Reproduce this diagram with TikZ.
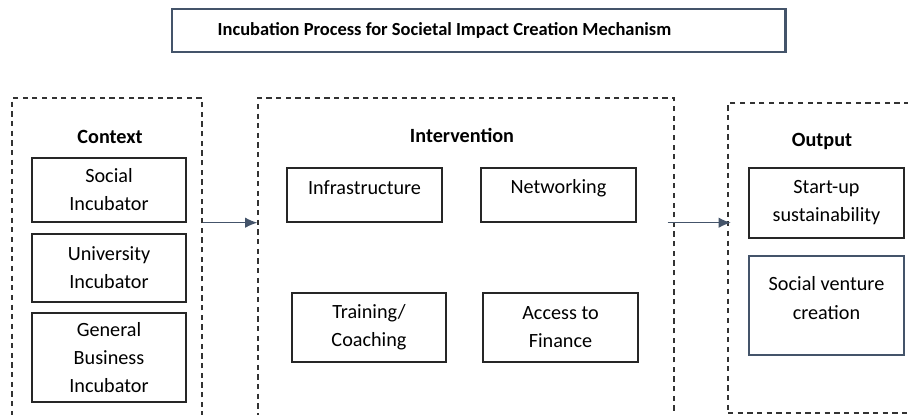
\documentclass[tikz,border=0pt]{standalone}
\usepackage{fontspec}
\setmainfont{Carlito}
\usetikzlibrary{arrows.meta}

\definecolor{slate}{HTML}{44546A}
\definecolor{boxline}{HTML}{262626}
\definecolor{dashline}{HTML}{333333}

\begin{document}
\begin{tikzpicture}[x=0.02cm, y=-0.02cm,
    every node/.style={font=\fontsize{11.5}{16}\selectfont},
    itembox/.style={draw=boxline, line width=0.8pt, align=center, inner sep=0pt},
    itemtext/.style={align=center, font=\fontsize{11.5}{16}\selectfont},
    groupbox/.style={draw=dashline, line width=0.8pt, dash pattern=on 3pt off 2.5pt, inner sep=0pt},
    heading/.style={font=\fontsize{11.5}{16}\selectfont\bfseries},
    flow/.style={draw=slate, line width=0.8pt, -{Latex[length=7pt, width=6pt]}}]
                \useasboundingbox (0,0) rectangle (908,415);
                \clip (0,0) rectangle (908,415);

                % Title
                \node[draw=slate, line width=1.2pt, minimum width=12.28cm, minimum height=0.86cm,
                      label={[font=\fontsize{10.5}{14}\selectfont\bfseries, xshift=-0.68cm]center:Incubation Process for Societal Impact Creation Mechanism}]
                      at (478.5, 30.5)  (title) {};

                % Groups
                \node[groupbox, minimum width=3.8cm, minimum height=6.44cm] at (107, 259)  (ctx)   {};
                \node[groupbox, minimum width=8.32cm, minimum height=6.44cm] at (466, 259)  (inter) {};
                \node[groupbox, minimum width=3.74cm, minimum height=6.2cm] at (821.5, 258)  (outp)  {};

                \node[heading] at (110, 137)  (ctxhead)   {Context};
                \node[heading] at (462, 135)  (interhead) {Intervention};
                \node[heading] at (822, 141)  (outphead)  {Output};

                % Context
                \node[itembox, minimum width=3.08cm, minimum height=1.28cm] at (109, 190)    (sinc) {Social\\Incubator};
                \node[itembox, minimum width=3.08cm, minimum height=1.36cm] at (109, 268)    (uinc) {University\\Incubator};
                \node[itembox, minimum width=3.08cm, minimum height=1.78cm] at (109, 357.5)  (binc) {General\\Business\\Incubator};

                % Intervention
                \node[itembox, minimum width=3.1cm, minimum height=1.08cm,
                      label={[itemtext, yshift=0.14cm]center:Infrastructure}] at (364.5, 195)  (infra) {};
                \node[itembox, minimum width=3.1cm, minimum height=1.08cm,
                      label={[itemtext, yshift=0.14cm]center:Networking}] at (558.5, 195)  (netw) {};
                \node[itembox, minimum width=3.08cm, minimum height=1.38cm] at (369, 327.5)    (train)  {Training/\\Coaching};
                \node[itembox, minimum width=3.1cm, minimum height=1.38cm] at (560.5, 327.5)  (finance) {Access to\\Finance};

                % Output
                \node[itembox, minimum width=3.1cm, minimum height=1.4cm] at (826.5, 203)  (sustain) {Start-up\\sustainability};
                \node[itembox, draw=slate, minimum width=3.1cm, minimum height=1.98cm,
                      label={[itemtext, yshift=0.15cm]center:Social venture\\creation}] at (826.5, 305.5)  (venture) {};

                \draw[flow]  (ctx.east |- infra.south) -- (inter.west |- infra.south);
                \draw[flow]  ([xshift=-4pt]inter.east |- netw.south) -- ([xshift=2pt]outp.west |- netw.south);
            \end{tikzpicture}
\end{document}
